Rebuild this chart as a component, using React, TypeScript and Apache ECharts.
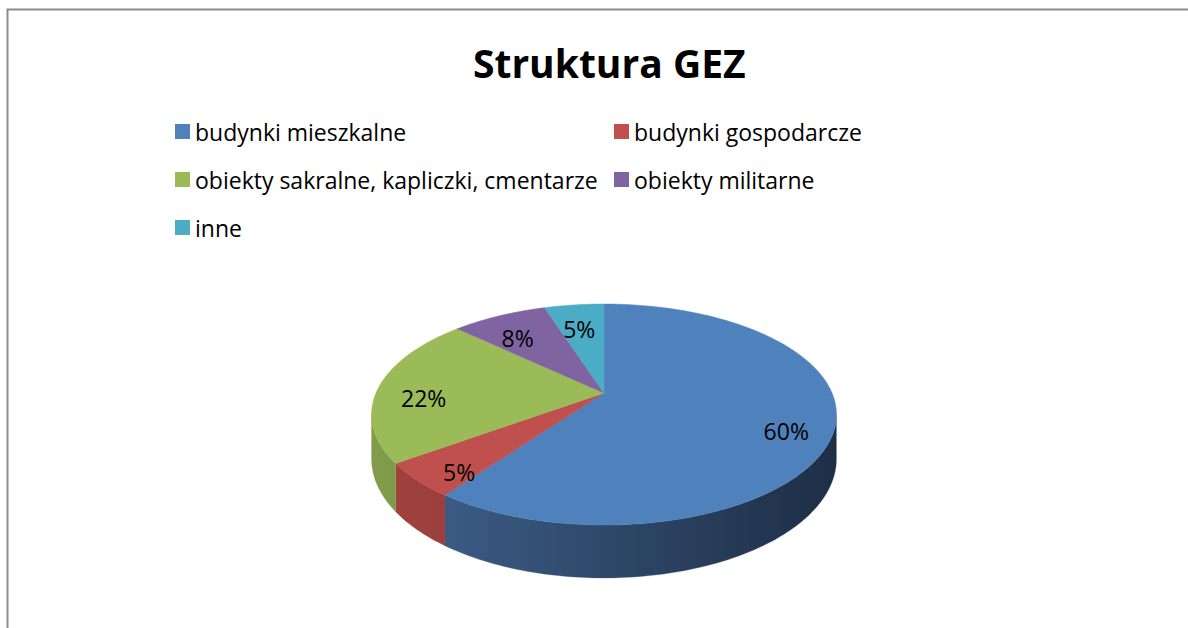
import React, { useEffect, useRef } from "react";
import * as echarts from "echarts";

// ---- data ----
const categories = [
  "budynki mieszkalne",
  "budynki gospodarcze",
  "obiekty sakralne, kapliczki, cmentarze",
  "obiekty militarne",
  "inne",
];
const values = [60, 5, 22, 8, 5];
const titleText = "Struktura GEZ";

// ---- styles ----
const topColors = ["#4f81bd", "#c0504d", "#9bbb59", "#8064a2", "#4bacc6"];
const sideLeft = ["#40638f", "#a3423f", "#819c4a", "#6a5387", "#3e8fa5"];
const sideRight = ["#1e2e45", "#7a2f2d", "#5d7034", "#46365a", "#2a6070"];
const FONT = '"Open Sans", "Noto Sans", sans-serif';

// pie projection (perspective of a flat disc)
const CX = 604;
const CY = 393;
const W = 228;
const S = 106.3;
const K = 0.1946;
const H = 42.7;
const TWO_PI = Math.PI * 2;
const FRONT_A = Math.acos(-K);
const FRONT_B = TWO_PI - Math.acos(-K);

function proj(t: number, r: number, d: number): number[] {
  const x = r * Math.sin(t);
  const z = r * Math.cos(t);
  const den = 1 + K * z;
  return [CX + (W * x) / den, CY + (-S * z + d) / den];
}

function arc(a: number, b: number, r: number, d: number): number[][] {
  const n = Math.max(2, Math.ceil((b - a) / (Math.PI / 180)));
  const pts: number[][] = [];
  for (let j = 0; j <= n; j++) pts.push(proj(a + ((b - a) * j) / n, r, d));
  return pts;
}

export default function App() {
  const ref = useRef<HTMLDivElement>(null);
  useEffect(() => {
    document.body.style.margin = "0";
    if (!ref.current) return;
    const chart = echarts.init(ref.current, undefined, { renderer: "svg" });
    const total = values.reduce((s, v) => s + v, 0);
    const cum: number[] = [0];
    values.forEach((v, i) => cum.push(cum[i] + v));

    const renderItem = (params: any, api: any) => {
      const i = params.seriesIndex;
      const a = (api.value(0) / total) * TWO_PI;
      const b = (api.value(1) / total) * TWO_PI;
      const v = api.value(2);
      const children: any[] = [];
      const fa = Math.max(a, FRONT_A);
      const fb = Math.min(b, FRONT_B);
      if (fb > fa) {
        const topRim = arc(fa, fb, 1, 0);
        const botRim = arc(fa, fb, 1, H).reverse();
        children.push({
          type: "polygon",
          shape: { points: topRim.concat(botRim) },
          style: {
            fill: new echarts.graphic.LinearGradient(
              CX - W * 1.02,
              0,
              CX + W * 1.02,
              0,
              [
                { offset: 0, color: sideLeft[i] },
                { offset: 1, color: sideRight[i] },
              ],
              true
            ),
            stroke: sideLeft[i],
            lineWidth: 0.3,
          },
        });
      }
      children.push({
        type: "polygon",
        shape: { points: [[CX, CY]].concat(arc(a, b, 1, 0)) },
        style: { fill: topColors[i], stroke: topColors[i], lineWidth: 0.5 },
      });
      const mid = (a + b) / 2;
      const lp = proj(mid, 0.8, 10);
      children.push({
        type: "text",
        x: lp[0],
        y: lp[1],
        z2: 10,
        style: {
          text: Math.round((v / total) * 100) + "%",
          fill: "#000",
          fontSize: 23,
          fontFamily: FONT,
          align: "center",
          verticalAlign: "middle",
        },
      });
      return { type: "group", children };
    };

    const legendPos = [
      [175, 120],
      [614, 120],
      [175, 168],
      [614, 168],
      [175, 216],
    ];

    chart.setOption({
      animation: false,
      color: topColors,
      title: {
        text: titleText,
        left: 468,
        top: 38,
        textStyle: {
          fontSize: 39,
          fontWeight: "bold",
          fontFamily: FONT,
          color: "#000",
        },
      },
      legend: categories.map((c, i) => ({
        data: [c],
        left: legendPos[i][0],
        top: legendPos[i][1],
        padding: 0,
        itemWidth: 15,
        itemHeight: 15,
        icon: "rect",
        selectedMode: false,
        textStyle: { fontSize: 23, fontFamily: FONT, color: "#000" },
      })),
      graphic: [
        {
          type: "rect",
          shape: { x: 7.5, y: 9.5, width: 1400, height: 800 },
          style: { fill: "none", stroke: "#8c8c8c", lineWidth: 2 },
          silent: true,
        },
      ],
      series: categories.map((c, i) => ({
        type: "custom",
        name: c,
        coordinateSystem: "none",
        renderItem,
        data: [[cum[i], cum[i + 1], values[i]]],
      })),
    });
    return () => chart.dispose();
  }, []);
  return <div ref={ref} style={{ width: 1188, height: 628 }} />;
}
